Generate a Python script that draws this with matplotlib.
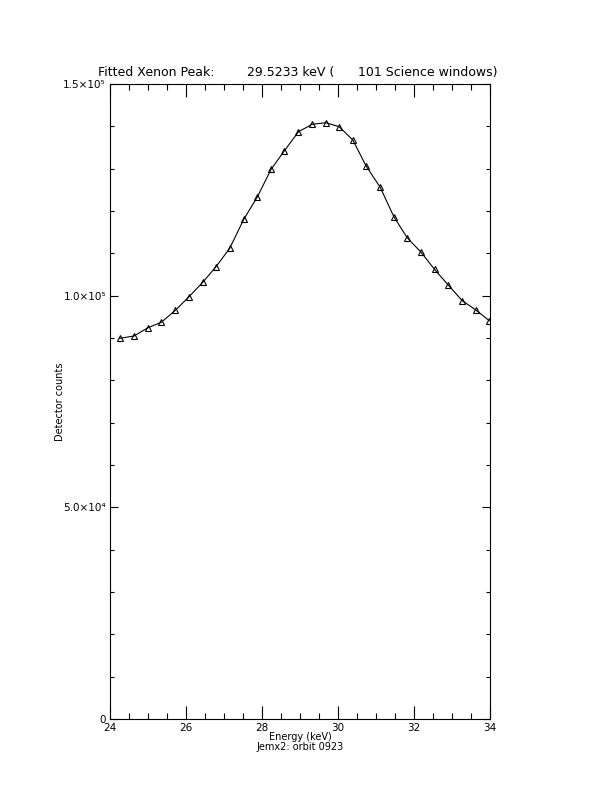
import matplotlib
matplotlib.use("Agg")
import matplotlib.pyplot as plt
from matplotlib.ticker import MultipleLocator, FixedLocator

# energy (keV) and counts
energy = [24.26, 24.63, 25.00, 25.35, 25.72, 26.08, 26.44, 26.79, 27.15, 27.52,
          27.88, 28.24, 28.59, 28.96, 29.32, 29.68, 30.03, 30.39, 30.74, 31.11,
          31.47, 31.82, 32.18, 32.54, 32.90, 33.27, 33.63, 33.98]
counts = [89930, 90470, 92430, 93710, 96540, 99760, 103160, 106840, 111190, 118040,
          123380, 129850, 134240, 138730, 140480, 140860, 139910, 136770, 130630, 125600,
          118650, 113690, 110310, 106230, 102520, 98810, 96610, 94090]

xticks = [24, 26, 28, 30, 32, 34]
yticks = [0, 50000, 100000, 150000]
ytick_labels = ["0", "5.0×10⁴", "1.0×10⁵", "1.5×10⁵"]

W, H = 612, 792
fig = plt.figure(figsize=(W / 100, H / 100), dpi=100)
# axes box in pixels: left 110, right 490, top 84, bottom 719
ax = fig.add_axes([110 / W, 1 - 719 / H, 380 / W, 635 / H])

ax.plot(energy, counts, color="black", lw=0.8)
ax.plot(energy, counts, ls="none", marker="^", ms=5, mfc="none", mec="black", mew=0.8)

ax.set_xlim(24, 34)
ax.set_ylim(0, 150000)
ax.xaxis.set_major_locator(FixedLocator(xticks))
ax.xaxis.set_minor_locator(MultipleLocator(0.5))
ax.yaxis.set_major_locator(FixedLocator(yticks))
ax.yaxis.set_minor_locator(MultipleLocator(10000))
ax.set_xticklabels([str(t) for t in xticks])
ax.set_yticklabels(ytick_labels)

ax.tick_params(axis="both", which="both", direction="in", top=True, right=True,
               width=0.8, labelsize=7.5, colors="black")
ax.tick_params(axis="x", which="major", length=9.1, pad=3)
ax.tick_params(axis="x", which="minor", length=4.6)
ax.tick_params(axis="y", which="major", length=5.5, pad=3)
ax.tick_params(axis="y", which="minor", length=2.7)
for s in ax.spines.values():
    s.set_linewidth(0.8)

# title pieces
ty = 1 - 76 / H
fig.text(98 / W, ty, "Fitted Xenon Peak:", fontsize=9, va="baseline", ha="left")
fig.text(247 / W, ty, "29.5233 keV (", fontsize=9, va="baseline", ha="left")
fig.text(497 / W, ty, "101 Science windows)", fontsize=9, va="baseline", ha="right")

fig.text(300 / W, 1 - 740 / H, "Energy (keV)", fontsize=7, ha="center", va="baseline")
fig.text(300 / W, 1 - 750 / H, "Jemx2: orbit 0923", fontsize=7, ha="center", va="baseline")
fig.text(60 / W, 1 - 402 / H, "Detector counts", fontsize=7, rotation=90,
         ha="center", va="center")

fig.savefig("out.png", dpi=100, facecolor="white")
